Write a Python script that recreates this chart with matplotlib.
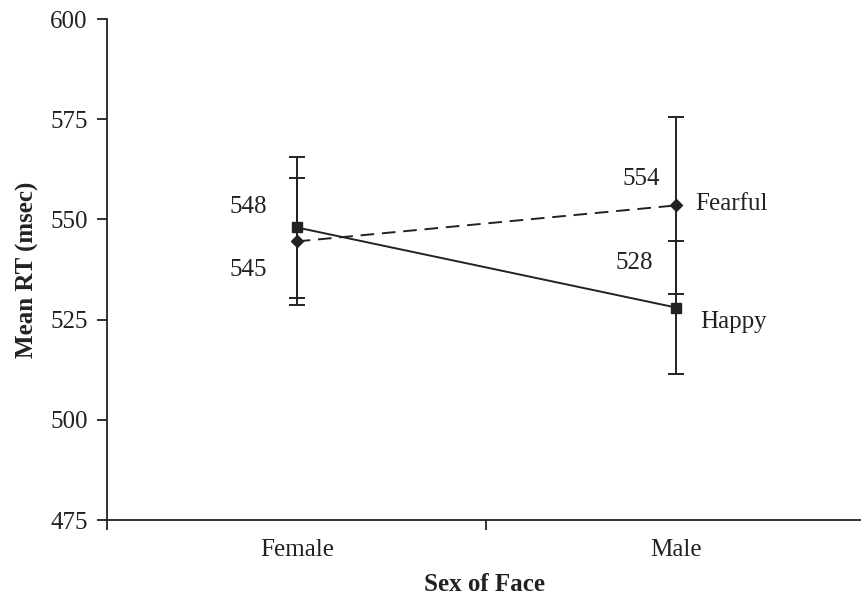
import matplotlib.pyplot as plt

# data
faces = ['Female', 'Male']
x_pos = [0.5, 1.5]
happy_rt = [548, 528]
happy_err = [17.5, 16.5]
fearful_rt = [544.5, 553.5]
fearful_err = [15.8, 22]
happy_labels = ['548', '528']
fearful_labels = ['545', '554']

plt.rcParams['font.family'] = 'Liberation Serif'

fig = plt.figure(figsize=(8.61, 5.99), dpi=100)
ax = fig.add_axes([107 / 861, 79 / 599, 754 / 861, 501 / 599])

ink = '#222222'
fs = 18
ax.errorbar(x_pos, happy_rt, yerr=happy_err, color=ink, marker='s', markersize=7.5,
            linewidth=1.4, elinewidth=1.4, capsize=5.5, capthick=1.4, linestyle='-')
ax.errorbar(x_pos, fearful_rt, yerr=fearful_err, color=ink, marker='D', markersize=6,
            linewidth=1.4, elinewidth=1.4, capsize=5.5, capthick=1.4, linestyle=(0, (7, 4)))

# value labels
ax.text(x_pos[0] - 0.078, happy_rt[0] + 5, happy_labels[0], fontsize=fs, ha='right', va='center', color=ink)
ax.text(x_pos[0] - 0.078, fearful_rt[0] - 7, fearful_labels[0], fontsize=fs, ha='right', va='center', color=ink)
ax.text(x_pos[1] - 0.042, fearful_rt[1] + 6.5, fearful_labels[1], fontsize=fs, ha='right', va='center', color=ink)
ax.text(x_pos[1] - 0.06, happy_rt[1] + 11.2, happy_labels[1], fontsize=fs, ha='right', va='center', color=ink)

# series names
ax.text(x_pos[1] + 0.05, fearful_rt[1] + 0.3, 'Fearful', fontsize=fs, ha='left', va='center', color=ink)
ax.text(x_pos[1] + 0.062, happy_rt[1] - 3.7, 'Happy', fontsize=fs, ha='left', va='center', color=ink)

ax.set_xlim(0, 1.987)
ax.set_ylim(475, 600)
ax.set_yticks([475, 500, 525, 550, 575, 600])
ax.set_xticks([0, 1])
ax.set_xticklabels([])
ax.set_xticks(x_pos, minor=True)
ax.set_xticklabels(faces, minor=True)
ax.tick_params(axis='x', which='minor', length=0, pad=14, labelsize=fs, labelcolor=ink)
ax.tick_params(axis='x', which='major', length=7, width=1.3, color=ink)
ax.tick_params(axis='y', length=7, width=1.3, color=ink, labelsize=fs, labelcolor=ink, pad=7)

for side in ['top', 'right']:
    ax.spines[side].set_visible(False)
for side in ['left', 'bottom']:
    ax.spines[side].set_linewidth(1.3)
    ax.spines[side].set_color(ink)

ax.set_xlabel('Sex of Face', fontsize=fs, fontweight='bold', color=ink, labelpad=8)
ax.set_ylabel('Mean RT (msec)', fontsize=fs, fontweight='bold', color=ink, labelpad=8)

plt.savefig('out.png', dpi=100)
